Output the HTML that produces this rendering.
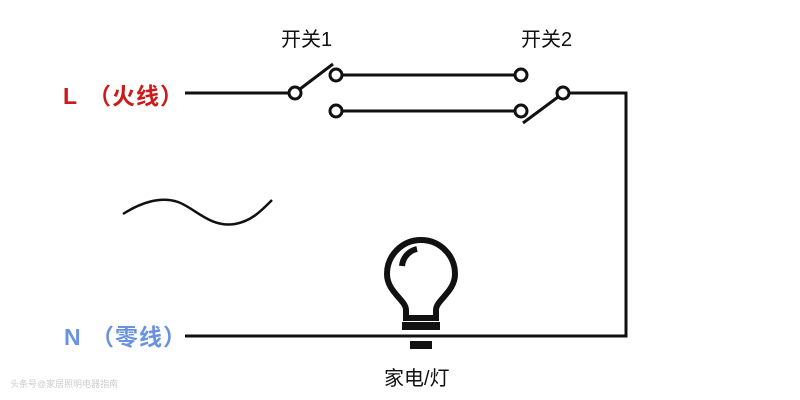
<!DOCTYPE html>
<html><head><meta charset="utf-8"><style>
html,body{margin:0;padding:0;background:#fff;width:800px;height:400px;overflow:hidden}
</style></head><body>
<svg width="800" height="400" viewBox="0 0 800 400" xmlns="http://www.w3.org/2000/svg">
<g stroke="#111" stroke-width="3" fill="none">
<line x1="185" y1="93" x2="289" y2="93"/>
<circle cx="295" cy="93" r="6" fill="#fff"/>
<line x1="300" y1="89" x2="333" y2="64"/>
<circle cx="336" cy="75" r="6" fill="#fff"/>
<circle cx="336" cy="111" r="6" fill="#fff"/>
<line x1="342" y1="75" x2="515" y2="75"/>
<line x1="342" y1="111" x2="515" y2="111"/>
<circle cx="521" cy="75" r="6" fill="#fff"/>
<circle cx="521" cy="111" r="6" fill="#fff"/>
<line x1="558" y1="97" x2="523" y2="123"/>
<circle cx="563" cy="93" r="6" fill="#fff"/>
<polyline points="569,93 626,93 626,336 185,336"/>
<path d="M123,214 C140,203 160,196 178,202 C195,208 210,228 235,224 C252,221 262,210 272,200" stroke-width="2.5"/>
<path d="M406,318 L406,310 C406,300 387,292 387,274 A34,34 0 1 1 455,274 C455,292 436,300 436,310 L436,318 Z" stroke-width="6" fill="#fff"/>
<path d="M402,266 A19,19 0 0 1 417,249" stroke-width="6"/>
</g>
<rect x="402" y="322" width="38" height="8" fill="#111"/>
<rect x="410" y="341" width="22" height="8" fill="#111"/>
<line x1="400" y1="336" x2="443" y2="336" stroke="#111" stroke-width="3"/>
<g font-family="Liberation Sans, Noto Sans CJK SC, sans-serif">
<text x="281" y="46" font-size="20" fill="#111">开关1</text>
<text x="521" y="46" font-size="20" fill="#111">开关2</text>
<text x="63" y="104" font-size="23" font-weight="bold" fill="#cc1a1a" letter-spacing="1">L<tspan x="88">（火线）</tspan></text>
<text x="64" y="345" font-size="23" font-weight="bold" fill="#6a93df" letter-spacing="1">N<tspan x="91">（零线）</tspan></text>
<text x="384" y="385" font-size="20" fill="#111">家电/灯</text>
<text x="10" y="387" font-size="9" fill="#ccc">头条号@家居照明电器指南</text>
</g>
</svg>
</body></html>
